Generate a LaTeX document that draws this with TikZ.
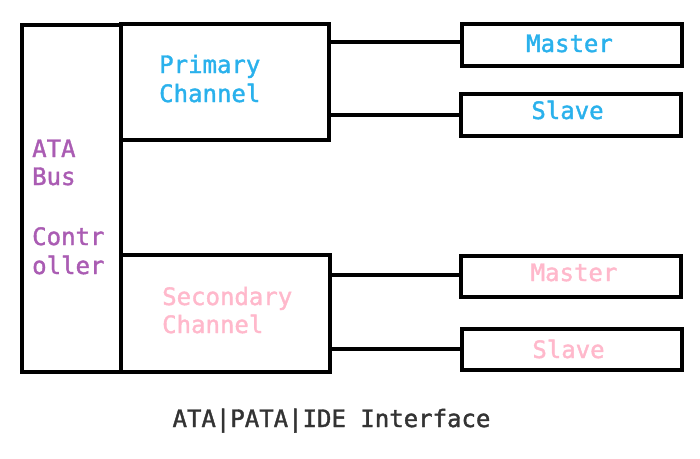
\documentclass[tikz,border=0pt]{standalone}
\usepackage{fontspec}
\newfontfamily\monof[FakeBold=1.6]{DejaVu Sans Mono}
\definecolor{cblue}{HTML}{2AB1EC}
\definecolor{cpurple}{HTML}{AA5CB3}
\definecolor{cpink}{HTML}{FFB8CB}
\definecolor{cdark}{HTML}{333333}
\tikzset{
  box/.style={draw=black, line width=4.4pt, inner sep=0pt, line join=miter},
  link/.style={draw=black, line width=4.4pt},
  lbl/.style={inner sep=0pt, font=\monof\fontsize{24}{29}\selectfont},
}
\begin{document}
\begin{tikzpicture}[x=1pt,y=-1pt]
\useasboundingbox (0,0) rectangle (700,458);
% boxes
\node[box, minimum width=99pt, minimum height=347pt] (ctrl) at (71.5,198.5) {};
\node[box, minimum width=208pt, minimum height=116pt] (prim) at (225,82) {};
\node[box, minimum width=209pt, minimum height=117pt] (sec) at (225.5,313.5) {};
\node[box, minimum width=220pt, minimum height=42pt] (m1) at (572,45) {};
\node[box, minimum width=220pt, minimum height=42pt] (s1) at (571,115) {};
\node[box, minimum width=220pt, minimum height=41pt] (m2) at (571,276.5) {};
\node[box, minimum width=220pt, minimum height=41pt] (s2) at (572,349.5) {};
% connectors
\draw[link] (prim.east |- 0,42) -- (m1.west |- 0,42);
\draw[link] (prim.east |- 0,115) -- (s1.west |- 0,115);
\draw[link] (sec.east |- 0,275) -- (m2.west |- 0,275);
\draw[link] (sec.east |- 0,349) -- (s2.west |- 0,349);
% texts
\node[lbl, text=cblue, anchor=base west] (pri1) at (159,73) {Primary};
\node[lbl, text=cblue, anchor=base west] (pri2) at (159,102) {Channel};
\node[lbl, text=cpurple, anchor=base west] (ata1) at (32,157) {ATA};
\node[lbl, text=cpurple, anchor=base west] (ata2) at (32,185) {Bus};
\node[lbl, text=cpurple, anchor=base west] (ata3) at (32,245) {Contr};
\node[lbl, text=cpurple, anchor=base west] (ata4) at (32,274) {oller};
\node[lbl, text=cpink, anchor=base west] (sec1) at (162,305) {Secondary};
\node[lbl, text=cpink, anchor=base west] (sec2) at (162,333) {Channel};
\node[lbl, text=cblue, anchor=base] (tm1) at (569.5,52) {Master};
\node[lbl, text=cblue, anchor=base] (ts1) at (567.5,119) {Slave};
\node[lbl, text=cpink, anchor=base] (tm2) at (574,281) {Master};
\node[lbl, text=cpink, anchor=base] (ts2) at (568.5,358) {Slave};
\node[lbl, text=cdark, anchor=base] (title) at (331.5,427) {ATA|PATA|IDE Interface};
\end{tikzpicture}
\end{document}
